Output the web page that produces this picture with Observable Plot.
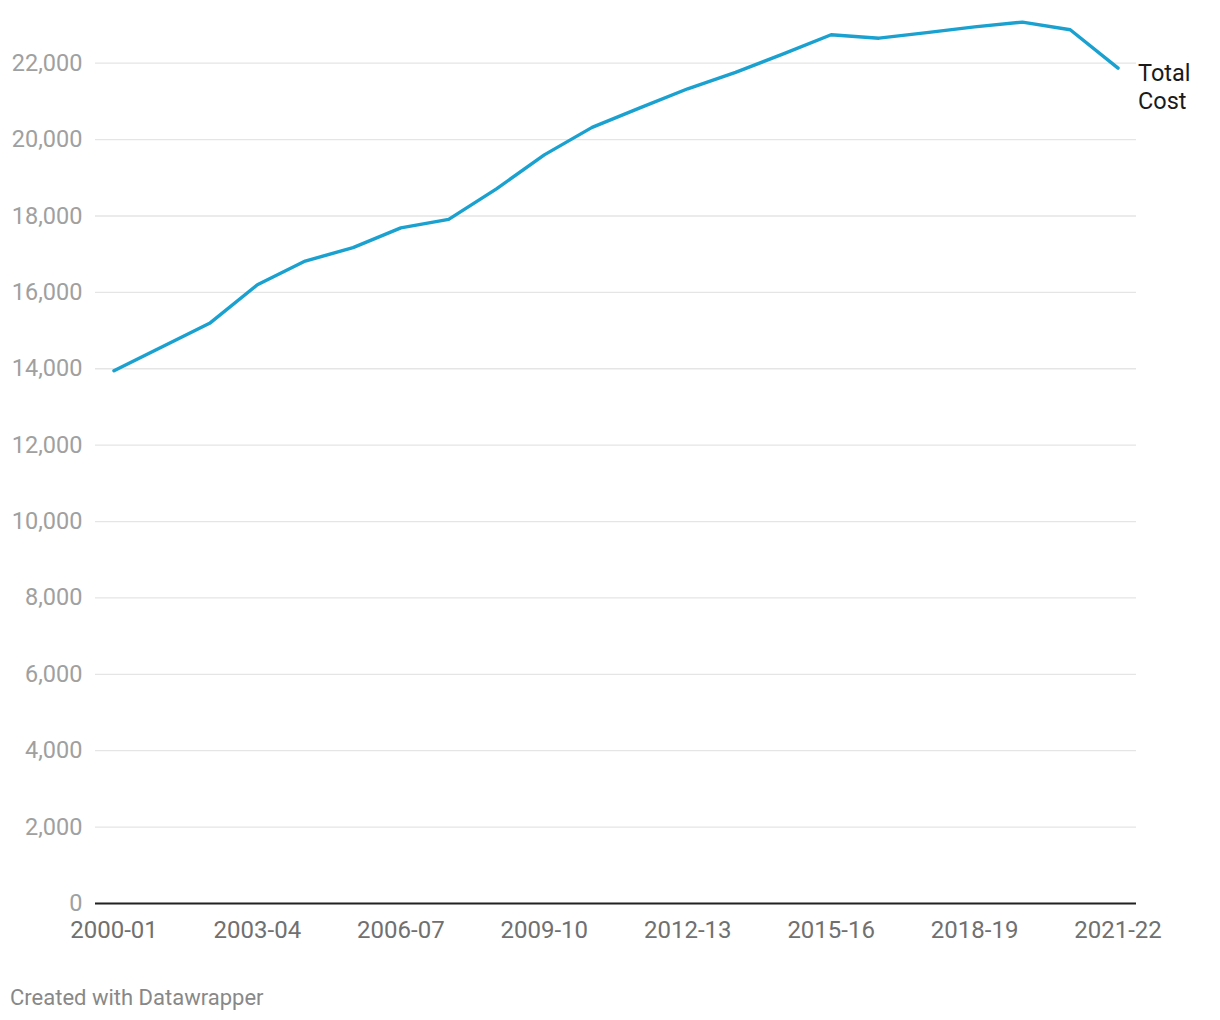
<!DOCTYPE html>
<html>
<head>
<meta charset="utf-8">
<script src="https://cdn.jsdelivr.net/npm/d3@7"></script>
<script src="https://cdn.jsdelivr.net/npm/@observablehq/plot@0.6"></script>
<style>
  html, body { margin: 0; padding: 0; background: #fff; }
  body { font-family: Roboto, "Noto Sans", sans-serif; width: 1220px; }
  #caption { font-family: Roboto, sans-serif; font-size: 22px; color: #888; margin: 25px 0 0 10px; line-height: 1.2; }
</style>
</head>
<body>
<div id="chart"></div>
<div id="caption">Created with Datawrapper</div>
<script>
const years = ["2000-01","2001-02","2002-03","2003-04","2004-05","2005-06","2006-07","2007-08","2008-09","2009-10","2010-11","2011-12","2012-13","2013-14","2014-15","2015-16","2016-17","2017-18","2018-19","2019-20","2020-21","2021-22"];
const totalCost = [13950, 14570, 15190, 16200, 16820, 17170, 17690, 17910, 18710, 19600, 20320, 20830, 21330, 21760, 22245, 22745, 22655, 22800, 22950, 23075, 22875, 21870];
const xTickLabels = ["2000-01","2003-04","2006-07","2009-10","2012-13","2015-16","2018-19","2021-22"];
const yTicks = [0,2000,4000,6000,8000,10000,12000,14000,16000,18000,20000,22000];
const seriesName = "Total\nCost";

const data = years.map((y, i) => ({year: y, value: totalCost[i]}));
const fmt = d3.format(",");

const chart = Plot.plot({
  width: 1220,
  height: 960,
  marginTop: 62.7,
  marginBottom: 57,
  marginLeft: 95,
  marginRight: 84,
  style: {fontFamily: "Roboto, sans-serif", fontSize: "24px", background: "#fff"},
  x: {type: "point", domain: years, padding: 0.386, round: false, label: null},
  y: {domain: [0, 22000], label: null},
  marks: [
    Plot.gridY(yTicks, {stroke: "#e5e5e5", strokeOpacity: 1, strokeWidth: 1.3}),
    Plot.axisY(yTicks, {tickSize: 0, tickPadding: 13, tickFormat: fmt, fill: "#a0a0a0", fontSize: 23.5, label: null}),
    Plot.axisX(xTickLabels, {tickSize: 0, tickPadding: 17, fill: "#707070", fontSize: 24, label: null}),
    Plot.ruleY([0], {stroke: "#222", strokeWidth: 2}),
    Plot.line(data, {x: "year", y: "value", stroke: "#1aa1cf", strokeWidth: 3.4, strokeLinejoin: "round", strokeLinecap: "round"}),
    Plot.text(data.slice(-1), {x: "year", y: "value", text: () => seriesName, textAnchor: "start", lineAnchor: "top", dx: 20, dy: -7, fill: "#1a1a1a", fontSize: 23.5, lineHeight: 1.2})
  ]
});
document.getElementById("chart").appendChild(chart);
</script>
</body>
</html>
